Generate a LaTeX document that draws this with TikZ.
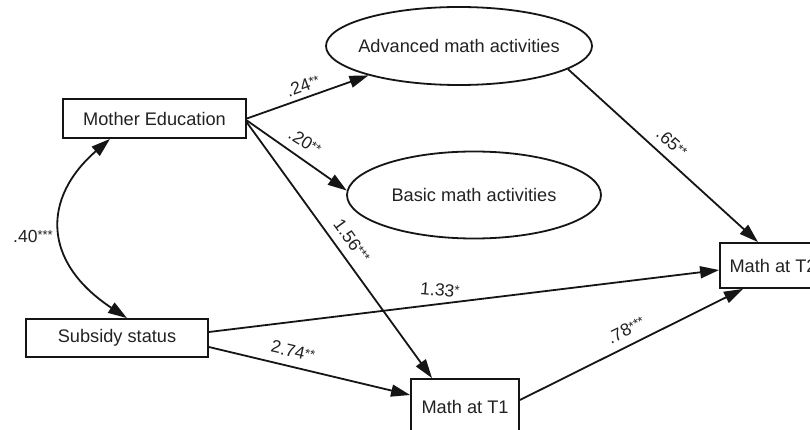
\documentclass[tikz,border=0pt]{standalone}
\usepackage{fontspec}
\setmainfont{Liberation Sans}
\usetikzlibrary{arrows.meta,shapes.geometric}
\definecolor{ink}{HTML}{151515}
\definecolor{txt}{HTML}{222222}
\newcommand{\stars}[1]{{\fontsize{13}{13}\selectfont\raisebox{2.5pt}{#1}}}
\begin{document}
\begin{tikzpicture}[x=1pt,y=-1pt,
  box/.style={draw=ink,line width=1.8pt,rectangle,inner sep=0pt,text=txt,font=\fontsize{18.2}{20}\selectfont},
  oval/.style={draw=ink,line width=1.8pt,ellipse,inner sep=0pt,text=txt,font=\fontsize{18.2}{20}\selectfont},
  lab/.style={inner sep=0pt,text=txt,font=\fontsize{17.5}{19}\selectfont},
  conn/.style={draw=ink,line width=1.8pt,-{Triangle[length=19pt,width=12pt]}},
  dconn/.style={draw=ink,line width=1.8pt,{Triangle[length=19pt,width=12pt]}-{Triangle[length=19pt,width=12pt]}}
]
\useasboundingbox (0,0) rectangle (810,430);
\clip (0,0) rectangle (810,430);
\fill[white] (0,0) rectangle (810,430);

\node[box,minimum width=183pt,minimum height=39pt] (me) at (154.5,118.5) {Mother Education};
\node[box,minimum width=182pt,minimum height=38pt] (sub) at (117,338) {Subsidy status};
\node[box,minimum width=108pt,minimum height=56pt] (t1) at (465,407) {Math at T1};
\node[box,minimum width=106pt,minimum height=45pt] (t2) at (773,265.5) {Math at T2};
\node[oval,minimum width=266pt,minimum height=78pt] (adv) at (459,46) {\makebox[0pt]{Advanced math activities}};
\node[oval,minimum width=254pt,minimum height=87pt] (basic) at (474,195) {\makebox[0pt]{Basic math activities}};

\draw[conn] (me.east) -- (adv.198);
\draw[conn] ([yshift=-2pt]me.east) -- (basic.178);
\draw[conn] ([yshift=-4pt]me.east) -- ([xshift=-33pt]t1.north);
\draw[conn] (adv.-12.5) -- ([xshift=-15pt]t2.north);
\draw[conn] ([yshift=6pt]sub.east) -- ([yshift=-4.5pt]t2.west);
\draw[conn] ([yshift=-9pt]sub.east) -- ([yshift=12pt]t1.west);
\draw[conn] ([yshift=7pt]t1.east) -- ([xshift=-30pt]t2.south);
\draw[dconn] ([xshift=-44.5pt]me.south) .. controls (42,198) and (42,262) .. ([xshift=10pt]sub.north);

\node[lab] (l40) at (33,236) {.40\stars{***}};
\node[lab,rotate=20] (l24) at (303,86) {.24\stars{**}};
\node[lab,rotate=-32] (l20) at (305,142) {.20\stars{**}};
\node[lab,rotate=-54] (l156) at (352,241) {1.56\stars{***}};
\node[lab,rotate=-42] (l65) at (672,143) {.65\stars{**}};
\node[lab,rotate=-5] (l133) at (440,290) {1.33\stars{*}};
\node[lab,rotate=-13] (l274) at (293,351) {2.74\stars{**}};
\node[lab,rotate=26.6] (l78) at (626,330) {.78\stars{***}};
\end{tikzpicture}
\end{document}
